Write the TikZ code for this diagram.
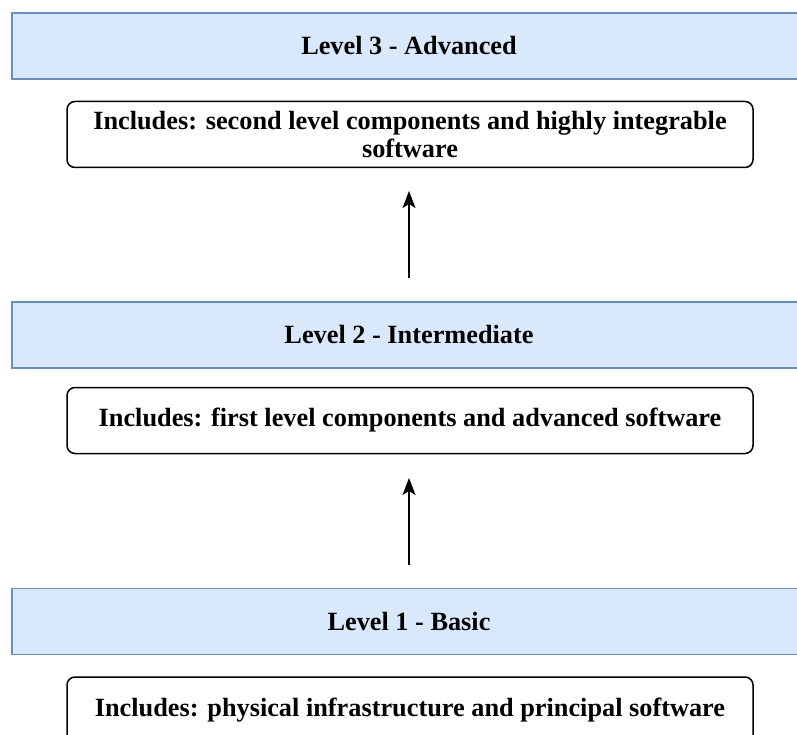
\documentclass[tikz,border=0pt]{standalone}
\usepackage{fontspec}
\setmainfont{Liberation Serif}
\usetikzlibrary{arrows.meta}
\definecolor{bandfill}{HTML}{DAE8FC}
\definecolor{bandline}{HTML}{6C8EBF}

\begin{document}
\begin{tikzpicture}[x=1pt,y=-1pt,
	band/.style={draw=bandline, fill=bandfill, line width=1.5pt, minimum width=794pt, minimum height=66pt, font=\fontsize{26.3}{27.5}\selectfont\bfseries},
	incbox/.style={draw, fill=white, rounded corners=8pt, line width=1.5pt, minimum width=686pt, minimum height=66pt, align=center, font=\fontsize{26.3}{27.5}\selectfont\bfseries},
	uparrow/.style={-{Stealth[length=17pt,width=13pt,inset=4pt]}, line width=1.5pt}]

	\clip (0,0) rectangle (797,735);

	% levels
	\node[band] (lev3) at (409,46) {Level 3 - Advanced};
	\node[incbox] (inc3) at (410,134.5) {Includes: second level components and highly integrable\\software};
	\node[band] (lev2) at (409,335) {Level 2 - Intermediate};
	\node[incbox] (inc2) at (410,420.5) {Includes: first level components and advanced software};
	\node[band] (lev1) at (409,621.5) {Level 1 - Basic};
	\node[incbox] (inc1) at (410,710) {Includes: physical infrastructure and principal software};

	% arrows
	\coordinate (a2s) at (409,565);
	\coordinate (a2e) at (409,478);
	\coordinate (a1s) at (409,278);
	\coordinate (a1e) at (409,191);
	\draw[uparrow] (a2s) -- (a2e);
	\draw[uparrow] (a1s) -- (a1e);

\end{tikzpicture}
\end{document}
